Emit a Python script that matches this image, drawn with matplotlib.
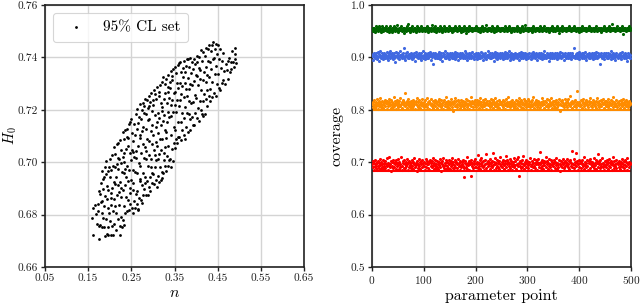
import numpy as np
import matplotlib
matplotlib.use("Agg")
import matplotlib.pyplot as plt
from matplotlib.ticker import FixedLocator, FormatStrFormatter

plt.rcParams['font.family'] = ['cmr10', 'DejaVu Serif']
plt.rcParams['mathtext.fontset'] = 'cm'
plt.rcParams['axes.unicode_minus'] = False
plt.rcParams['axes.formatter.use_mathtext'] = True

# ---------------- left panel: 95% CL set in (n, H0) ----------------
cl_n = [
    0.158, 0.162, 0.161, 0.165, 0.168,
    0.171, 0.172, 0.174, 0.175, 0.176, 0.177, 0.178, 0.173, 0.179,
    0.180, 0.181, 0.182, 0.183, 0.184, 0.185, 0.186, 0.186, 0.187, 0.188, 0.189, 0.182, 0.185,
    0.190, 0.191, 0.191, 0.192, 0.193, 0.194, 0.195, 0.195, 0.196, 0.197, 0.198, 0.199, 0.193, 0.197,
    0.200, 0.201, 0.201, 0.202, 0.203, 0.204, 0.204, 0.205, 0.206, 0.206, 0.207, 0.208, 0.208, 0.209, 0.203,
    0.210, 0.210, 0.211, 0.212, 0.212, 0.213, 0.214, 0.214, 0.215, 0.216, 0.216, 0.217, 0.218, 0.218, 0.219, 0.213,
    0.220, 0.220, 0.221, 0.222, 0.223, 0.223, 0.224, 0.225, 0.225, 0.226, 0.227, 0.227, 0.228, 0.229, 0.224, 0.222,
    0.230, 0.230, 0.231, 0.231, 0.232, 0.233, 0.233, 0.234, 0.235, 0.235, 0.236, 0.236, 0.237, 0.238, 0.238, 0.239, 0.232, 0.234,
    0.240, 0.241, 0.241, 0.242, 0.243, 0.243, 0.244, 0.245, 0.245, 0.246, 0.247, 0.247, 0.248, 0.249, 0.242, 0.246,
    0.250, 0.250, 0.251, 0.252, 0.252, 0.253, 0.254, 0.254, 0.255, 0.256, 0.256, 0.257, 0.258, 0.258, 0.259, 0.253, 0.255,
    0.260, 0.260, 0.261, 0.262, 0.262, 0.263, 0.264, 0.264, 0.265, 0.266, 0.266, 0.267, 0.268, 0.268, 0.269, 0.269, 0.261, 0.265,
    0.270, 0.270, 0.271, 0.272, 0.272, 0.273, 0.274, 0.274, 0.275, 0.276, 0.276, 0.277, 0.278, 0.278, 0.279, 0.279, 0.271, 0.275,
    0.280, 0.280, 0.281, 0.282, 0.282, 0.283, 0.284, 0.284, 0.285, 0.286, 0.286, 0.287, 0.288, 0.288, 0.289, 0.289, 0.281, 0.285,
    0.290, 0.290, 0.291, 0.292, 0.292, 0.293, 0.294, 0.294, 0.295, 0.296, 0.296, 0.297, 0.298, 0.298, 0.299, 0.299, 0.291, 0.295,
    0.300, 0.300, 0.301, 0.302, 0.302, 0.303, 0.304, 0.304, 0.305, 0.306, 0.306, 0.307, 0.308, 0.308, 0.309, 0.309, 0.301, 0.305,
    0.310, 0.310, 0.311, 0.312, 0.312, 0.313, 0.314, 0.314, 0.315, 0.316, 0.316, 0.317, 0.318, 0.318, 0.319, 0.319, 0.311, 0.315,
    0.320, 0.320, 0.321, 0.322, 0.322, 0.323, 0.324, 0.324, 0.325, 0.326, 0.326, 0.327, 0.328, 0.328, 0.329, 0.329, 0.321, 0.325,
    0.330, 0.330, 0.331, 0.332, 0.332, 0.333, 0.334, 0.334, 0.335, 0.336, 0.336, 0.337, 0.338, 0.338, 0.339, 0.331, 0.335,
    0.340, 0.340, 0.341, 0.342, 0.342, 0.343, 0.344, 0.344, 0.345, 0.346, 0.346, 0.347, 0.348, 0.348, 0.349, 0.341, 0.345,
    0.350, 0.350, 0.351, 0.352, 0.353, 0.353, 0.354, 0.355, 0.355, 0.356, 0.357, 0.357, 0.358, 0.359, 0.352,
    0.360, 0.361, 0.361, 0.362, 0.363, 0.364, 0.364, 0.365, 0.366, 0.367, 0.367, 0.368, 0.369, 0.363,
    0.370, 0.371, 0.371, 0.372, 0.373, 0.374, 0.374, 0.375, 0.376, 0.377, 0.377, 0.378, 0.379, 0.375,
    0.380, 0.381, 0.381, 0.382, 0.383, 0.384, 0.384, 0.385, 0.386, 0.387, 0.387, 0.388, 0.389, 0.383,
    0.390, 0.391, 0.391, 0.392, 0.393, 0.394, 0.395, 0.395, 0.396, 0.397, 0.398, 0.398, 0.399,
    0.400, 0.401, 0.402, 0.402, 0.403, 0.404, 0.405, 0.406, 0.406, 0.407, 0.408, 0.409,
    0.410, 0.411, 0.412, 0.412, 0.413, 0.414, 0.415, 0.416, 0.416, 0.417, 0.418, 0.419,
    0.420, 0.421, 0.422, 0.422, 0.423, 0.424, 0.425, 0.426, 0.426, 0.427, 0.428, 0.429,
    0.430, 0.431, 0.432, 0.433, 0.433, 0.434, 0.435, 0.436, 0.437, 0.438, 0.439,
    0.440, 0.441, 0.442, 0.443, 0.444, 0.445, 0.446, 0.447, 0.448, 0.449,
    0.450, 0.451, 0.452, 0.454, 0.455, 0.456, 0.457, 0.459,
    0.460, 0.462, 0.463, 0.465, 0.467, 0.469,
    0.471, 0.473, 0.475, 0.477, 0.479,
    0.480, 0.482, 0.484, 0.486, 0.488,
    0.490, 0.491, 0.492, 0.490,
]
cl_h0 = [
    0.6786, 0.6724, 0.6824, 0.6838, 0.6803,
    0.6765, 0.6842, 0.6758, 0.6889, 0.6706, 0.6877, 0.6761, 0.6813, 0.6849,
    0.6921, 0.6752, 0.6853, 0.6968, 0.6788, 0.6897, 0.6751, 0.6944, 0.6832, 0.6982, 0.6718, 0.6805, 0.6935,
    0.6872, 0.6954, 0.6784, 0.7003, 0.6725, 0.6911, 0.6827, 0.6966, 0.6753, 0.6894, 0.6983, 0.6807, 0.6858, 0.6721,
    0.6942, 0.6776, 0.7012, 0.6863, 0.6969, 0.6722, 0.6836, 0.7027, 0.6901, 0.6758, 0.6984, 0.6814, 0.6723, 0.6925, 0.6882,
    0.7058, 0.6858, 0.6764, 0.6982, 0.6917, 0.7031, 0.6807, 0.6945, 0.6741, 0.7068, 0.6873, 0.6995, 0.6783, 0.6912, 0.7016, 0.6834,
    0.6975, 0.7073, 0.6837, 0.7012, 0.6758, 0.6924, 0.7084, 0.6866, 0.6998, 0.6791, 0.7046, 0.6903, 0.6752, 0.6962, 0.6722, 0.6885,
    0.7115, 0.6893, 0.7021, 0.6781, 0.6958, 0.7087, 0.6832, 0.7002, 0.6912, 0.7124, 0.6807, 0.6974, 0.7051, 0.6869, 0.6943, 0.7096, 0.6761, 0.7034,
    0.6986, 0.6812, 0.7128, 0.6928, 0.7063, 0.6854, 0.7145, 0.6972, 0.6818, 0.7036, 0.6901, 0.7155, 0.6839, 0.7008, 0.7094, 0.6881,
    0.7165, 0.6931, 0.7047, 0.6826, 0.7112, 0.6972, 0.6808, 0.7081, 0.6894, 0.7018, 0.7146, 0.6853, 0.6962, 0.7105, 0.6827, 0.7038, 0.6921,
    0.6878, 0.7183, 0.7016, 0.6842, 0.7125, 0.6957, 0.7204, 0.6891, 0.7063, 0.6823, 0.7148, 0.6998, 0.7172, 0.6862, 0.7092, 0.6935, 0.7041, 0.6816,
    0.7221, 0.6986, 0.7102, 0.6857, 0.7165, 0.7034, 0.6912, 0.7198, 0.6843, 0.7071, 0.7226, 0.6958, 0.7134, 0.6873, 0.7015, 0.7187, 0.6929, 0.7118,
    0.6897, 0.7213, 0.7058, 0.7241, 0.6945, 0.7127, 0.6876, 0.7183, 0.7012, 0.6928, 0.7236, 0.7089, 0.6876, 0.7162, 0.6984, 0.7207, 0.6919, 0.7043,
    0.7251, 0.7027, 0.6904, 0.7164, 0.7082, 0.6943, 0.7229, 0.6891, 0.7118, 0.7012, 0.7263, 0.6957, 0.7195, 0.7068, 0.6921, 0.7142, 0.7216, 0.6983,
    0.6956, 0.7218, 0.7104, 0.7275, 0.6918, 0.7046, 0.7182, 0.6982, 0.7261, 0.7135, 0.6932, 0.7077, 0.7243, 0.7009, 0.7154, 0.6905, 0.7237, 0.7028,
    0.7286, 0.7063, 0.6948, 0.7189, 0.7112, 0.6925, 0.7254, 0.7031, 0.7167, 0.6982, 0.7295, 0.7088, 0.6931, 0.7226, 0.7045, 0.7141, 0.7012, 0.7268,
    0.6963, 0.7212, 0.7305, 0.7087, 0.6941, 0.7158, 0.7326, 0.6958, 0.7243, 0.7036, 0.7181, 0.7297, 0.6987, 0.7123, 0.7264, 0.7059, 0.7196, 0.7008,
    0.7318, 0.7094, 0.6968, 0.7227, 0.7153, 0.7024, 0.7286, 0.6985, 0.7192, 0.7331, 0.7061, 0.7245, 0.7007, 0.7172, 0.7308, 0.7116, 0.7268,
    0.7012, 0.7284, 0.7176, 0.7347, 0.6983, 0.7103, 0.7236, 0.7328, 0.7052, 0.7191, 0.7355, 0.7004, 0.7263, 0.7135, 0.7072, 0.7218, 0.7312,
    0.7362, 0.7124, 0.7268, 0.7056, 0.7342, 0.7193, 0.7087, 0.7304, 0.7072, 0.7236, 0.7371, 0.7155, 0.7283, 0.7098, 0.7217,
    0.7214, 0.7378, 0.7097, 0.7302, 0.7384, 0.7153, 0.7261, 0.7083, 0.7346, 0.7186, 0.7289, 0.7121, 0.7358, 0.7238,
    0.7327, 0.7102, 0.7248, 0.7385, 0.7168, 0.7301, 0.7089, 0.7212, 0.7369, 0.7134, 0.7278, 0.7392, 0.7186, 0.7343,
    0.7253, 0.7116, 0.7394, 0.7321, 0.7183, 0.7362, 0.7234, 0.7121, 0.7297, 0.7398, 0.7165, 0.7342, 0.7226, 0.7278,
    0.7381, 0.7172, 0.7296, 0.7143, 0.7357, 0.7228, 0.7395, 0.7142, 0.7311, 0.7256, 0.7376, 0.7189, 0.7334,
    0.7246, 0.7405, 0.7168, 0.7328, 0.7382, 0.7205, 0.7293, 0.7157, 0.7361, 0.7402, 0.7234, 0.7318,
    0.7352, 0.7198, 0.7428, 0.7276, 0.7183, 0.7387, 0.7314, 0.7234, 0.7419, 0.7176, 0.7345, 0.7262,
    0.7183, 0.7406, 0.7307, 0.7243, 0.7437, 0.7362, 0.7215, 0.7331, 0.7275, 0.7433, 0.7388, 0.7253,
    0.7324, 0.7446, 0.7232, 0.7381, 0.7278, 0.7423, 0.7355, 0.7249, 0.7448, 0.7306, 0.7392,
    0.7458, 0.7263, 0.7397, 0.7336, 0.7432, 0.7251, 0.7369, 0.7451, 0.7297, 0.7413,
    0.7336, 0.7446, 0.7283, 0.7392, 0.7276, 0.7431, 0.7358, 0.7302,
    0.7385, 0.7312, 0.7418, 0.7347, 0.7298, 0.7376,
    0.7352, 0.7388, 0.7318, 0.7397, 0.7346,
    0.7382, 0.7356, 0.7423, 0.7384, 0.7362,
    0.7437, 0.7392, 0.7378, 0.7412,
]
left_xticks = [0.05, 0.15, 0.25, 0.35, 0.45, 0.55, 0.65]
left_yticks = [0.66, 0.68, 0.70, 0.72, 0.74, 0.76]
legend_label = "95% CL set"

# ---------------- right panel: coverage per parameter point ----------------
# nominal confidence levels (horizontal lines)
nominal_levels = [0.95, 0.90, 0.80, 0.6827]
level_colors = ['#006400', '#4169e1', '#ff8c00', '#ff0000']

# observed coverage minus nominal level, in units of 0.001, per parameter point
green_excess = [
    4, 1, 6, 2, 7, 4, -1, 9, 2, 6, 4, 1, 7, 10, 2, 4, 6, -1, 2, 9, 4, 7, 1, 6, 2,
    6, 2, 9, 4, 1, 7, 4, -2, 6, 2, 10, 4, 2, 7, -1, 6, 4, 9, 2, 1, 6, 4, 7, 2, 11,
    4, -1, 6, 2, 7, 4, 9, 1, 4, 2, 6, -3, 7, 4, 2, 6, 1, 9, 4, 14, 2, 6, 4, -1, 7,
    2, 6, 4, 9, 1, 4, 7, 2, 6, -1, 4, 10, 2, 6, 4, 1, 7, 4, 2, 9, 6, 1, 4, 7, 2,
    6, 4, 1, 7, 2, 6, 9, 4, -1, 6, 2, 7, 4, 1, 6, 11, 2, 4, 7, 1, 6, 2, 9, 4, -2,
    4, 7, 2, 6, 1, 4, 9, 2, 6, 4, -1, 7, 4, 2, 10, 6, 1, 4, 7, 2, 6, 4, 1, 9, 2,
    7, 4, 2, 6, -1, 4, 7, 1, 6, 2, 9, 4, 6, 2, 1, 7, 4, 10, 2, 6, 4, -1, 6, 2, 7,
    1, 4, 6, 9, 2, 4, -4, 6, 2, 7, 4, 1, 6, 9, 2, 4, 7, 2, 6, 1, 4, 7, 2, 6, 4,
    9, 2, 6, 4, 1, 7, 4, 2, 6, -1, 7, 4, 2, 9, 6, 1, 4, 7, 2, 6, 11, 4, 1, 6, 2,
    4, 7, 2, 6, 1, 4, 9, 2, 4, 6, -1, 7, 2, 4, 6, 1, 9, 4, 2, 7, 4, 6, 2, 1, 6,
    2, 6, 4, 7, 1, 4, 2, 9, 6, 4, 1, 7, 2, 6, 4, 10, 2, 6, -1, 4, 7, 2, 6, 4, 1,
    7, 4, 2, 6, 9, 1, 4, 6, 2, 7, 4, -1, 6, 2, 9, 4, 1, 7, 4, 2, 6, 12, 4, 2, 7,
    4, 1, 6, 2, 7, 4, 6, 2, -1, 6, 4, 9, 2, 7, 4, 1, 6, 2, 4, 7, 2, 6, 1, 4, 9,
    2, 6, 4, 7, 1, 6, 2, 4, 9, 2, 6, 1, 4, 7, 2, 6, 4, -1, 7, 4, 2, 6, 9, 4, 1,
    6, 2, 7, 4, 1, 6, 4, 9, 2, 6, 4, -3, 7, 2, 6, 4, 1, 9, 4, 2, 6, 7, 2, 4, 6,
    1, 7, 4, 2, 6, 9, 4, 2, 6, 1, 4, 7, 2, 6, 4, 10, 2, 6, 1, 4, 7, 2, 6, 4, -1,
    6, 2, 7, 4, 1, 6, 9, 2, 4, 7, 2, 6, 4, 1, 7, 4, 2, 6, 9, 2, 4, 6, 1, 7, 4,
    2, 6, 4, 7, 1, 4, 6, 2, 9, 4, 1, 6, 2, 7, 4, 6, 2, -1, 7, 4, 6, 2, 9, 4, 2,
    6, 1, 4, 7, 2, 6, 4, 9, 2, 6, 1, 4, 7, 2, 13, 4, 6, 2, 7, 4, 1, 6, 2, 9, 4,
    2, 6, 4, 1, 7, 4, 2, 6, 9, 2, -5, 4, 7, 2, 6, 4, 1, 7, 4, 2, 6, 9, 4, 2, 6,
]
blue_excess = [
    2, -5, 6, 1, 9, -2, 5, -1, 8, -4, 3, 10, 1, -6, 6, 2, 12, -2, 3, 8, -1, 5, -4, 9, 1,
    6, -2, 3, 10, -1, 5, -5, 8, 2, 13, -2, 3, 6, 1, 9, -4, 5, -1, 8, 3, -8, 2, 10, 1, 5,
    -1, 8, 2, -4, 5, 12, 1, 6, -2, 3, 9, -1, 18, 2, -5, 5, 8, 1, 10, -2, 3, 6, -1, 5, 2,
    9, 1, -4, 6, 3, -1, 8, 2, -6, 5, 10, 1, 3, -2, 6, 2, 9, -1, 5, -5, 8, 1, 3, 12, -2,
    5, 2, 8, -4, 1, 6, 3, -2, 9, -1, 5, 2, 10, -5, 6, 1, 3, 8, -13, 2, 5, -1, 9, 1, 6,
    -2, 3, 6, -1, 10, 2, -4, 5, 8, 1, 3, -6, 9, 2, 6, -1, 12, 3, -2, 5, 8, 1, 2, 6, -4,
    3, 9, 1, 5, -2, 8, 2, -1, 6, 3, 10, -4, 5, 1, 8, 3, -5, 6, 2, 9, -1, 5, 1, 8, 3,
    6, -1, 5, 2, 12, -2, 3, 8, 1, -5, 6, 2, 9, -1, 5, 3, -2, 8, 2, 10, 1, 6, -4, 3, 5,
    1, 8, -4, 5, 3, 9, -1, 6, 2, -2, 10, 3, 1, 8, -5, 5, 2, 6, -1, 9, 3, -4, 5, 1, 13,
    2, 6, -1, 9, 3, -2, 5, 8, 1, 3, -6, 6, 2, 10, -1, 5, 8, -4, 3, 1, 6, 2, 9, -2, 5,
    8, 1, 3, -4, 6, 2, 10, -1, 5, 3, -2, 8, 1, 6, 2, 12, -5, 5, -1, 8, 3, 1, 6, -4, 3,
    -1, 5, 9, 2, -2, 6, 3, 1, 8, -5, 5, 2, 10, -1, 3, 6, -2, 9, 2, 5, 1, 8, -4, 3, 6,
    3, -2, 6, 1, 9, 2, 5, -4, 8, -1, 3, 10, 1, 6, -2, 5, 2, 8, 3, -5, 6, 1, 9, 2, -1,
    5, 8, 1, 3, -4, 6, 2, 12, -1, 5, 3, -2, 8, 2, 6, 1, -6, 3, 9, -1, 5, 2, 8, -2, 3,
    6, 2, -2, 5, 9, 1, 3, 8, -4, 5, -1, 6, 2, 10, -2, 3, 8, 1, 5, 2, -5, 6, 3, 9, -1,
    2, 5, 1, 8, -2, 3, 6, -1, 9, 2, -4, 5, 8, 1, 3, 18, 2, -2, 6, 3, -1, 8, 5, 1, 10,
    -4, 3, 6, 1, 5, 9, -1, 2, 8, -2, 5, 3, 10, 1, -5, 6, 2, 5, -1, 8, 3, -2, 6, 2, 9,
    1, 5, -4, 8, 3, -1, 6, 2, 10, -2, 3, 8, 1, 5, 2, -13, 6, 3, 9, -1, 5, 1, 8, -4, 3,
    6, 2, 9, -1, 3, 8, -2, 5, 1, 6, 3, 12, -4, 5, 2, 8, -1, 3, 6, 1, -5, 5, 9, 2, 3,
    -1, 6, 3, 1, 8, -4, 5, 2, 10, 1, 3, -2, 6, 2, 8, -1, 5, 3, -6, 9, 1, 6, 2, 5, -1,
]
orange_excess = [
    12, 6, 15, 9, 18, 3, 11, 14, 7, 20, 10, 2, 13, 16, 8, 22, 11, 5, 14, 9, 17, 12, 4, 15, 10,
    8, 19, 13, 1, 16, 11, 7, 21, 14, 9, 12, 3, 18, 10, 15, 6, 13, 24, 8, 11, 16, 2, 14, 9, 19,
    13, 5, 17, 10, 8, 22, 12, 15, 4, 11, 18, 9, 14, 7, 33, 13, 10, 16, 3, 12, 20, 8, 15, 11, 6,
    16, 10, 4, 13, 19, 8, 12, 15, 1, 11, 17, 9, 22, 14, 6, 10, 18, 12, 3, 15, 9, 13, 21, 7, 11,
    5, 14, 18, 10, 8, 12, 23, 6, 15, 11, 2, 17, 13, 9, 20, 7, 12, 16, 4, 14, 10, 19, 8, 13, 15,
    11, 3, 16, 9, 14, 21, 7, 12, 18, 5, 13, 10, 15, 2, 19, 11, 8, 14, 24, 6, 12, 17, 9, 13, 4,
    14, 9, 20, 12, 6, 15, 11, -3, 17, 13, 8, 22, 10, 16, 5, 12, 18, 9, 14, 3, 11, 19, 7, 15, 12,
    8, 17, 12, 4, 15, 10, 21, 13, 6, 18, 11, 9, 16, 2, 14, 12, 25, 8, 13, 17, 5, 11, 15, 10, 19,
    12, 6, 14, 19, 9, 13, 3, 16, 11, 22, 8, 15, 10, 5, 18, 12, 14, 7, 20, 10, 1, 13, 16, 9, 12,
    17, 10, 5, 13, 21, 8, 15, 12, 4, 18, 11, 14, 7, 23, 10, 13, 6, 16, 12, 9, 19, 3, 14, 11, 15,
    9, 14, 18, 6, 12, 16, 10, 2, 20, 13, 8, 15, 11, 24, 7, 14, 12, 5, 17, 10, 13, 19, 8, 12, 4,
    15, 11, 7, 19, 13, 4, 16, 10, 22, 12, 8, 14, 18, 6, 11, 15, 3, 13, 21, 9, 16, 12, 5, 17, 10,
    13, 20, 8, 12, 16, 5, 14, 10, 18, 7, 25, 11, 13, 4, 15, 9, 19, 12, 6, 14, 17, 10, 2, 13, 11,
    6, 15, 12, 22, 9, 13, 17, 3, 11, 16, 8, 14, 20, 10, 5, 12, 18, 7, 15, 11, 23, 9, 13, 4, 16,
    12, 8, 17, 14, 4, 19, 11, 13, 6, 15, 9, 21, 12, -2, 16, 10, 14, 18, 7, 13, 11, 5, 20, 12, 15,
    10, 16, 5, 13, 20, 9, 12, 26, 8, 15, 11, 3, 17, 13, 7, 14, 19, 10, 12, 6, 15, 35, 9, 13, 11,
    14, 7, 12, 18, 10, 4, 16, 13, 21, 8, 11, 15, 2, 19, 12, 9, 14, 6, 17, 11, 13, 23, 8, 15, 10,
    6, 13, 19, 11, 15, 8, 12, 3, 17, 14, 22, 9, 13, 5, 16, 10, 12, 18, 7, 14, 11, 20, 4, 13, 16,
    11, 17, 8, 14, 12, 6, 20, 10, 15, 2, 13, 18, 9, 12, 16, 5, 24, 11, 14, 8, 13, 19, 10, 6, 15,
    13, 9, 16, 4, 12, 18, 11, 14, 7, 21, 10, 13, 3, 16, 12, 8, 19, 15, 11, 5, 14, 17, 9, 12, 13,
]
red_excess = [
    14, 8, 19, 3, 16, 11, 22, 6, 13, 17, 2, 20, 10, 15, 7, 24, 12, 4, 18, 9, 14, 21, 5, 16, 11,
    19, 7, 13, 25, 10, 3, 16, 12, 27, 8, 14, 20, 1, 17, 11, 22, 6, 15, 9, 18, 13, 4, 21, 10, 16,
    12, 23, 5, 17, 14, 9, 28, 11, 2, 19, 15, 7, 21, 13, 6, 18, 10, 24, 14, 3, 16, 20, 8, 12, 17,
    6, 15, 21, 10, 18, 4, 13, 26, 9, 16, 12, 1, 20, 14, 7, 23, 11, 17, 5, 19, 13, 8, 22, 15, 10,
    18, 11, 3, 16, 24, 9, 14, 20, 6, 13, 17, 2, 21, 10, 15, 8, 19, 12, 25, 5, 16, 11, 22, 7, 14,
    9, 20, 13, 5, 17, 12, 23, 8, 15, 1, 19, 14, 10, 26, 6, 16, 12, 21, 4, 18, 11, 15, 7, 22, 13,
    16, 4, 19, 11, 14, 25, 7, 17, 12, 3, 21, 9, 15, 18, 6, 13, 24, 10, 16, 2, 20, 12, 8, 17, 14,
    11, 22, 6, -10, 15, 19, 9, 14, 27, 5, 16, 12, 20, 3, 13, 18, -9, 22, 10, 15, 7, 19, 13, 24, 8,
    15, 9, 18, 13, 31, 6, 16, 11, 21, 4, 14, 25, 10, 17, 8, 19, 12, 2, 22, 14, 33, 7, 16, 11, 20,
    13, 17, 5, 23, 10, 15, 20, 8, 35, 12, 3, 18, 14, 26, 6, 16, 11, 21, 9, 15, 19, 4, 13, 28, 10,
    17, 8, 14, 21, 12, 5, 19, 15, 29, 9, 13, 22, 3, 18, 11, 16, 24, 7, 14, 20, 10, 2, 17, 13, 26,
    8, 19, 12, 4, 23, 14, 10, 27, -9, 16, 11, 20, 6, 15, 21, 9, 13, 30, 12, 5, 18, 14, 22, 8, 16,
    20, 12, 7, 17, 14, 25, 10, 3, 19, 13, 16, 8, 23, 11, 15, 6, 21, 13, 18, 2, 14, 24, 9, 16, 37,
    14, 6, 18, 22, 10, 15, 4, 20, 12, 17, 28, 8, 13, 19, 5, 16, 11, 23, 9, 14, 21, 3, 17, 12, 15,
    10, 21, 15, 7, 18, 12, 26, 5, 16, 13, 9, 22, 14, 1, 19, 11, 17, 8, 24, 13, 15, 6, 20, 10, 18,
    16, 12, 23, 9, 14, 19, 4, 17, 21, 11, 15, 38, 8, 13, 24, 6, 18, 12, 34, 10, 16, 20, 3, 14, 22,
    9, 15, 19, 6, 17, 13, 22, 10, 14, 27, 5, 18, 12, 16, 8, 21, 11, 2, 19, 15, 24, 7, 13, 17, 11,
    18, 10, 14, 25, 7, 16, 12, 21, 4, 15, 19, 9, 33, 13, 17, 6, 22, 11, 14, 26, 8, 16, 12, 3, 20,
    12, 17, 8, 21, 14, 5, 18, 11, 24, 15, 9, 13, 20, 2, 16, 12, 27, 7, 19, 14, 10, 22, 6, 15, 13,
    15, 9, 20, 13, 4, 18, 11, 23, 16, 8, 14, 19, 6, 21, 12, 17, 10, 25, 3, 15, 13, 18, 9, 16, 14,
]
right_xticks = [0, 100, 200, 300, 400, 500]
right_yticks = [0.5, 0.6, 0.7, 0.8, 0.9, 1.0]

# ---------------- figure ----------------
fig = plt.figure(figsize=(6.4, 3.03), dpi=100)
ax1 = fig.add_axes([45 / 640, 1 - 267 / 303, 259 / 640, 262 / 303])
ax2 = fig.add_axes([372 / 640, 1 - 267 / 303, 259 / 640, 262 / 303])

tick_fs = 8.2
label_fs = 11.5

for ax in (ax1, ax2):
    ax.set_axisbelow(True)
    ax.grid(True, color='#d4d4d4', linewidth=1.0)
    for sp in ax.spines.values():
        sp.set_linewidth(1.2)
        sp.set_color('#222222')
    ax.tick_params(direction='out', length=2.9, width=1.0, labelsize=tick_fs,
                   colors='#222222', pad=2.0)

m = min(len(cl_n), len(cl_h0))
ax1.scatter(cl_n[:m], cl_h0[:m], s=4, c='black', linewidths=0, label=legend_label)
ax1.set_xlim(left_xticks[0], left_xticks[-1])
ax1.set_ylim(left_yticks[0], left_yticks[-1])
ax1.xaxis.set_major_locator(FixedLocator(left_xticks))
ax1.yaxis.set_major_locator(FixedLocator(left_yticks))
ax1.xaxis.set_major_formatter(FormatStrFormatter('%.2f'))
ax1.yaxis.set_major_formatter(FormatStrFormatter('%.2f'))
ax1.set_xlabel(r'$n$', fontsize=label_fs, labelpad=2)
ax1.set_ylabel(r'$H_0$', fontsize=10.5, va='center')
ax1.yaxis.set_label_coords(-0.135, 0.5)
leg = ax1.legend(loc='upper left', fontsize=11, scatterpoints=1, markerscale=1.0,
                 borderpad=0.5, handletextpad=0.8, borderaxespad=0.5)
leg.get_frame().set_edgecolor('#cccccc')
leg.get_frame().set_linewidth(0.8)

series = [green_excess, blue_excess, orange_excess, red_excess]
for excess, level, col in zip(series, nominal_levels, level_colors):
    vals = level + np.asarray(excess, dtype=float) / 1000.0
    pts = np.arange(len(vals))
    ax2.axhline(level, color=col, linewidth=1.5, zorder=2)
    ax2.scatter(pts, vals, s=5, c=col, linewidths=0, zorder=3)

ax2.set_xlim(right_xticks[0], right_xticks[-1])
ax2.set_ylim(right_yticks[0], right_yticks[-1])
ax2.xaxis.set_major_locator(FixedLocator(right_xticks))
ax2.yaxis.set_major_locator(FixedLocator(right_yticks))
ax2.yaxis.set_major_formatter(FormatStrFormatter('%.1f'))
ax2.set_xlabel('parameter point', fontsize=label_fs, labelpad=2)
ax2.set_ylabel('coverage', fontsize=label_fs, labelpad=5)

fig.savefig('out.png', dpi=100)
